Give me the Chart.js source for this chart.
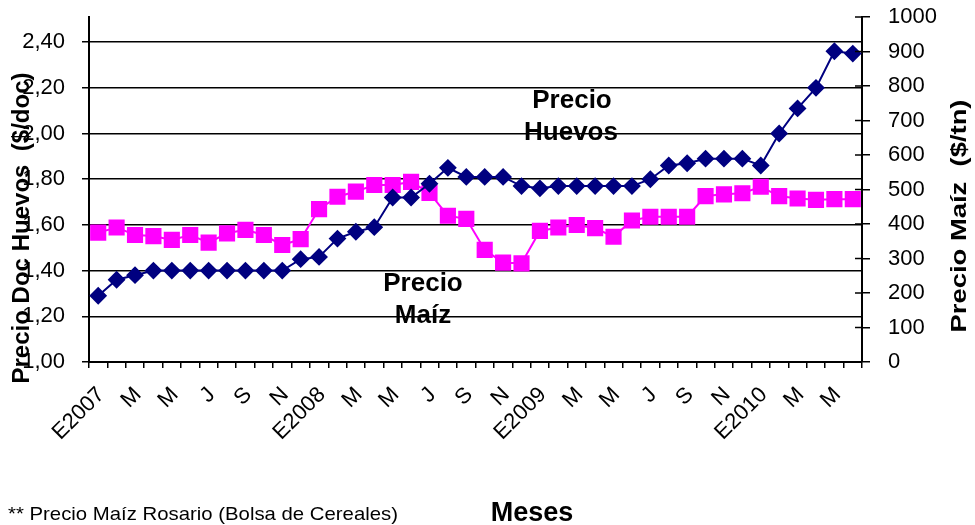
<!DOCTYPE html>
<html lang="es">
<head>
<meta charset="UTF-8">
<title>Precio Huevos y Maíz</title>
<script src="https://cdn.jsdelivr.net/npm/chart.js"></script>
<style>
  html, body { margin: 0; padding: 0; background: #fff; }
  #wrap { width: 975px; height: 525px; position: relative; }
</style>
</head>
<body>
<div id="wrap"><canvas id="myChart"></canvas></div>
<script>
// meses: enero 2007 a junio 2010
const meses = [
  'E2007','F','M','A','M','J','J','A','S','O','N','D',
  'E2008','F','M','A','M','J','J','A','S','O','N','D',
  'E2009','F','M','A','M','J','J','A','S','O','N','D',
  'E2010','F','M','A','M','J'
];

// Precio docena de huevos ($/doc) - eje izquierdo
const precioHuevos = [
  1.29, 1.36, 1.38, 1.40, 1.40, 1.40, 1.40, 1.40, 1.40, 1.40, 1.40, 1.45,
  1.46, 1.54, 1.57, 1.59, 1.72, 1.72, 1.78, 1.85, 1.81, 1.81, 1.81, 1.77,
  1.76, 1.77, 1.77, 1.77, 1.77, 1.77, 1.80, 1.86, 1.87, 1.89, 1.89, 1.89,
  1.86, 2.00, 2.11, 2.20, 2.36, 2.35
];

// Precio maíz Rosario ($/tn) - eje derecho
const precioMaiz = [
  375, 390, 368, 365, 354, 368, 346, 373, 383, 368, 339, 356,
  443, 479, 494, 513, 513, 522, 490, 424, 415, 325, 288, 286,
  380, 390, 397, 388, 363, 410, 421, 421, 421, 481, 486, 489,
  508, 481, 474, 470, 472, 472
];

// marcas del eje izquierdo
const ticksHuevos = [1.0, 1.2, 1.4, 1.6, 1.8, 2.0, 2.2, 2.4];

const FONT = "'Liberation Sans', Arial, sans-serif";

// escribe un texto ajustado a un ancho dado
function texto(ctx, str, x, y, font, ancho, rot, align) {
  ctx.save();
  ctx.font = font;
  ctx.fillStyle = '#000';
  ctx.textAlign = align || 'center';
  ctx.textBaseline = 'alphabetic';
  ctx.translate(x, y);
  if (rot) ctx.rotate(rot);
  if (ancho) {
    const w = ctx.measureText(str).width;
    ctx.scale(ancho / w, 1);
  }
  ctx.fillText(str, 0, 0);
  ctx.restore();
}

const textos = {
  id: 'textos',
  afterDraw(chart) {
    const ctx = chart.ctx;
    // marcas interiores del eje derecho
    const y1 = chart.scales.y1;
    ctx.save();
    ctx.strokeStyle = '#000';
    ctx.lineWidth = 1.5;
    y1.ticks.forEach(t => {
      const py = y1.getPixelForValue(t.value);
      ctx.beginPath();
      ctx.moveTo(y1.left - 7, py);
      ctx.lineTo(y1.left, py);
      ctx.stroke();
    });
    ctx.restore();

    texto(ctx, 'Precio Doc Huevos  ($/doc)', 29, 228, 'bold 23px ' + FONT, 311, -Math.PI / 2);
    texto(ctx, 'Precio Maíz  ($/tn)', 966, 216, 'bold 22px ' + FONT, 233, -Math.PI / 2);
    texto(ctx, 'Precio', 572, 108, 'bold 26px ' + FONT);
    texto(ctx, 'Huevos', 571, 140, 'bold 26px ' + FONT);
    texto(ctx, 'Precio', 423, 291, 'bold 26px ' + FONT);
    texto(ctx, 'Maíz', 423, 323, 'bold 26px ' + FONT);
    texto(ctx, 'Meses', 532, 521, 'bold 27px ' + FONT);
    texto(ctx, '** Precio Maíz Rosario (Bolsa de Cereales)', 8, 520, '19px ' + FONT, 390, 0, 'left');
  }
};

const ctx = document.getElementById('myChart').getContext('2d');
new Chart(ctx, {
  type: 'line',
  data: {
    labels: meses,
    datasets: [
      {
        label: 'Precio Huevos',
        data: precioHuevos,
        yAxisID: 'y',
        borderColor: '#000080',
        backgroundColor: '#000080',
        borderWidth: 2,
        pointStyle: 'rectRot',
        pointRadius: 7.5,
        pointHoverRadius: 7.5,
        tension: 0
      },
      {
        label: 'Precio Maíz',
        data: precioMaiz,
        yAxisID: 'y1',
        borderColor: '#FF00FF',
        backgroundColor: '#FF00FF',
        borderWidth: 2,
        pointStyle: 'rect',
        pointRadius: 10,
        pointHoverRadius: 10,
        tension: 0
      }
    ]
  },
  options: {
    responsive: true,
    maintainAspectRatio: false,
    animation: false,
    layout: { padding: { top: 17, left: 0, right: 0, bottom: 0 } },
    plugins: {
      legend: { display: false },
      tooltip: { enabled: false }
    },
    scales: {
      x: {
        offset: true,
        grid: { offset: true, drawOnChartArea: false, color: '#000', lineWidth: 1.5, tickLength: 6 },
        border: { color: '#000', width: 2 },
        ticks: {
          autoSkip: false,
          maxRotation: 45,
          minRotation: 45,
          padding: 14,
          labelOffset: 3,
          color: '#000',
          font: { family: FONT, size: 22 },
          callback: function (v, i) { return i % 2 === 0 ? meses[i] : ''; }
        },
        afterFit(s) { s.height = 163; }
      },
      y: {
        position: 'left',
        min: 1,
        max: 2.51,
        afterBuildTicks(s) { s.ticks = ticksHuevos.map(v => ({ value: v })); },
        grid: { color: '#000', lineWidth: 1.5, tickLength: 7 },
        border: { color: '#000', width: 2 },
        ticks: {
          padding: 17,
          color: '#000',
          font: { family: FONT, size: 22 },
          callback: v => v.toFixed(2).replace('.', ',')
        },
        afterFit(s) { s.width = 89; s.paddingTop = 0; s.paddingBottom = 0; }
      },
      y1: {
        position: 'right',
        min: 0,
        max: 1000,
        grid: { drawOnChartArea: false, color: '#000', lineWidth: 1.5, tickLength: 8 },
        border: { color: '#000', width: 2 },
        ticks: {
          stepSize: 100,
          padding: 18,
          color: '#000',
          font: { family: FONT, size: 22 },
          callback: v => String(v)
        },
        afterFit(s) { s.width = 113; s.paddingTop = 0; s.paddingBottom = 0; }
      }
    }
  },
  plugins: [textos]
});
</script>
</body>
</html>
